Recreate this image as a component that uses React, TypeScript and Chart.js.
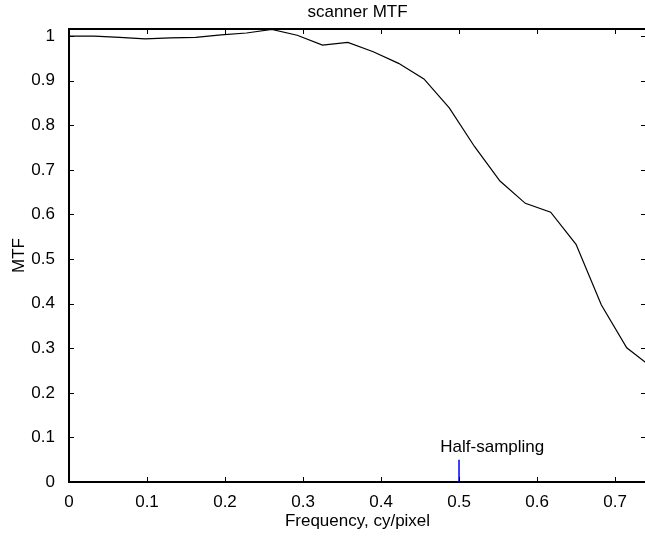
import React, { useEffect, useRef } from 'react';
import { Chart, registerables } from 'chart.js';

Chart.register(...registerables);

// ---- data ----
const frequency = [
  0, 0.0325, 0.065, 0.0975, 0.13, 0.1625, 0.195, 0.2275, 0.26, 0.2925, 0.325, 0.3575,
  0.39, 0.4225, 0.455, 0.4875, 0.52, 0.5525, 0.585, 0.6175, 0.65, 0.6825, 0.715, 0.7475,
];
const mtf = [
  1.0, 1.0, 0.997, 0.994, 0.996, 0.997, 1.003, 1.007, 1.015, 1.002, 0.98, 0.986,
  0.965, 0.939, 0.904, 0.839, 0.752, 0.675, 0.625, 0.605, 0.533, 0.397, 0.301, 0.257,
];
const halfSamplingX = [0.5, 0.5];
const halfSamplingY = [0, 0.05];
const halfSamplingLabel = 'Half-sampling';
const halfSamplingLabelPos = [0.476, 0.078];
const xTicks = [0, 0.1, 0.2, 0.3, 0.4, 0.5, 0.6, 0.7];
const yTicks = [0, 0.1, 0.2, 0.3, 0.4, 0.5, 0.6, 0.7, 0.8, 0.9, 1];
const xRange = [0, 0.7397];
const yRange = [0, 1.016];
const chartTitle = 'scanner MTF';
const xTitle = 'Frequency, cy/pixel';
const yTitle = 'MTF';

const FONT = '"Liberation Sans", Arial, Helvetica, sans-serif';
const FS = 17;

const fmt = (v: number) => String(Number(v.toFixed(2)));

const framePlugin = {
  id: 'matlabFrame',
  afterDraw(chart: any) {
    const { ctx, chartArea, scales } = chart;
    const { left, right, top, bottom } = chartArea;
    const xs = scales.x;
    const ys = scales.y;
    ctx.save();
    ctx.strokeStyle = '#000';
    // ticks inward
    ctx.lineWidth = 1;
    const tl = 5;
    ctx.beginPath();
    xTicks.forEach((v) => {
      const px = Math.round(xs.getPixelForValue(v)) + 0.5;
      ctx.moveTo(px, bottom);
      ctx.lineTo(px, bottom - tl);
      ctx.moveTo(px, top);
      ctx.lineTo(px, top + tl);
    });
    yTicks.forEach((v) => {
      const py = Math.round(ys.getPixelForValue(v)) + 0.5;
      ctx.moveTo(left, py);
      ctx.lineTo(left + tl, py);
      ctx.moveTo(right, py);
      ctx.lineTo(right - tl, py);
    });
    ctx.stroke();
    // box
    ctx.lineWidth = 2;
    ctx.strokeRect(left, top, right - left, bottom - top);
    // annotation text
    ctx.fillStyle = '#000';
    ctx.font = `${FS}px ${FONT}`;
    ctx.textAlign = 'left';
    ctx.textBaseline = 'middle';
    ctx.fillText(
      halfSamplingLabel,
      xs.getPixelForValue(halfSamplingLabelPos[0]),
      ys.getPixelForValue(halfSamplingLabelPos[1])
    );
    // title
    ctx.textAlign = 'center';
    ctx.fillText(chartTitle, (left + right) / 2, 12);
    ctx.restore();
  },
};

export default function App() {
  const ref = useRef<HTMLCanvasElement | null>(null);
  useEffect(() => {
    if (!ref.current) return;
    Chart.defaults.font.family = FONT;
    Chart.defaults.font.size = FS;
    Chart.defaults.color = '#000';
    const chart = new Chart(ref.current, {
      type: 'line',
      data: {
        datasets: [
          {
            label: 'MTF',
            data: frequency.map((f, i) => ({ x: f, y: mtf[i] })),
            borderColor: '#000',
            borderWidth: 1.2,
            pointRadius: 0,
            tension: 0,
            fill: false,
          },
          {
            label: 'Half-sampling',
            data: halfSamplingX.map((f, i) => ({ x: f, y: halfSamplingY[i] })),
            borderColor: '#0000ff',
            borderWidth: 1.5,
            pointRadius: 0,
            fill: false,
          },
        ],
      },
      plugins: [framePlugin],
      options: {
        responsive: false,
        animation: false,
        devicePixelRatio: 1,
        layout: { padding: { left: 0, right: 14, top: 29, bottom: 0 } },
        plugins: {
          legend: { display: false },
          tooltip: { enabled: false },
          title: { display: false },
        },
        scales: {
          x: {
            type: 'linear',
            min: xRange[0],
            max: xRange[1],
            grid: { display: false },
            border: { display: false },
            afterBuildTicks: (s: any) => {
              s.ticks = xTicks.map((v) => ({ value: v }));
            },
            afterFit: (s: any) => {
              s.height = 54;
            },
            ticks: {
              autoSkip: false,
              maxRotation: 0,
              minRotation: 0,
              padding: 2,
              includeBounds: false,
              callback: (v: any) => fmt(Number(v)),
              font: { size: FS, family: FONT },
              color: '#000',
            },
            title: {
              display: true,
              text: xTitle,
              font: { size: FS, family: FONT },
              color: '#000',
              padding: { top: 0, bottom: 4.5 },
            },
          },
          y: {
            type: 'linear',
            min: yRange[0],
            max: yRange[1],
            grid: { display: false },
            border: { display: false },
            afterBuildTicks: (s: any) => {
              s.ticks = yTicks.map((v) => ({ value: v }));
            },
            afterFit: (s: any) => {
              s.width = 69;
            },
            ticks: {
              autoSkip: false,
              padding: 6,
              includeBounds: false,
              callback: (v: any) => fmt(Number(v)),
              font: { size: FS, family: FONT },
              color: '#000',
            },
            title: {
              display: true,
              text: yTitle,
              font: { size: FS, family: FONT },
              color: '#000',
              padding: { top: 9, bottom: 0 },
            },
          },
        },
      },
    } as any);
    return () => chart.destroy();
  }, []);
  return (
    <div
      style={{
        position: 'fixed',
        left: 0,
        top: 0,
        width: 645,
        height: 536,
        overflow: 'hidden',
        background: '#fff',
      }}
    >
      <canvas ref={ref} width={660} height={536} style={{ display: 'block' }} />
    </div>
  );
}
